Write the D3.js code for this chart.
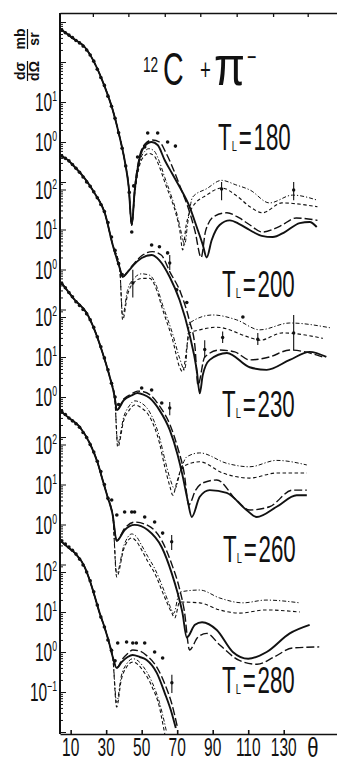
<!DOCTYPE html>
<html>
<head>
<meta charset="utf-8">
<script src="https://cdn.jsdelivr.net/npm/d3@7"></script>
<style>
body { margin: 0; background: #fff; }
text { font-family: "Liberation Sans", Arial, sans-serif; fill: #111; }
</style>
</head>
<body>
<svg id="chart" width="337" height="765"></svg>
<script>
// pion lab energies (MeV), one panel each, shifted down by 3 decades per panel
var energies = [180, 200, 230, 260, 280];

// [theta (deg), dsigma/dOmega (mb/sr)]; forward part shared by all four curves
var fwd180 = [[4,670],[6.6,560],[9.4,450],[12.3,365],[17.9,237],[23.5,94],[29.2,24],[33.7,6.3],[37.6,1.33],[40.4,0.35],[42.7,0.075],[44.4,0.0084]];
var solid180 = [[46.1,0.063],[48.9,0.4],[51.7,0.79],[55.6,1.0],[59,0.84],[63,0.35],[66.9,0.17],[71.4,0.075],[77,0.024],[81,0.0075],[84.4,0.0027],[86.6,0.0013],[89.4,0.0035],[93.9,0.0084],[99.6,0.011],[105,0.0089],[110.8,0.0063],[117.6,0.0045],[123.8,0.0042],[130.6,0.0056],[139,0.0094],[144.6,0.01],[148.6,0.0075]];
var longdash180 = [[46.1,0.07],[48.9,0.45],[52,0.9],[56,1.12],[60,1.0],[64,0.5],[68,0.2],[72,0.07],[76,0.024],[80,0.006],[83.5,0.0013],[86,0.006],[91,0.014],[98,0.017],[105,0.0126],[111,0.0084],[118,0.0056],[128,0.0079],[137,0.0126],[149,0.011]];
var dashed180 = [[46.1,0.05],[48.9,0.27],[52,0.47],[54,0.52],[57,0.45],[60,0.24],[63,0.1],[65.5,0.05],[69,0.018],[71.5,0.006],[73.1,0.002],[75,0.008],[78.7,0.024],[86.6,0.047],[95,0.071],[103.5,0.045],[111,0.024],[118,0.017],[129,0.03],[149,0.024]];
var dashdot180 = [[46.1,0.055],[48.9,0.32],[52,0.6],[54,0.68],[57,0.6],[60,0.32],[63,0.13],[66,0.055],[70,0.015],[72.5,0.005],[74.2,0.0027],[76,0.01],[78.7,0.042],[86.6,0.068],[95,0.11],[103,0.085],[111,0.063],[122,0.03],[135,0.047],[149,0.035]];
var pts180 = [[5,630],[7,540],[9,470],[11,410],[13,345],[15,300],[17,250],[19,200],[21,150],[23,105],[25,66],[27,41],[29,26],[31,14],[33,7.8],[35,3.9],[37,1.7],[39,0.7],[41,0.25],[43,0.055],[44.4,0.0056],[45.5,0.08],[47.7,0.42],[51.7,0.75],[53.4,1.68],[59,1.68],[64.6,1.0],[69,0.79]];
var err180 = [[95,0.067,0.035,0.1],[135.6,0.063,0.035,0.1]];

var fwd200 = [[3.8,727],[8.3,550],[12.3,365],[17.9,190],[23.5,81],[29.2,26],[33.7,4.1],[37.6,1.1]];
var solid200 = [[39.3,0.65],[41.5,0.8],[44.4,1.15],[50,1.94],[55.6,2.3],[60,1.7],[65.8,0.65],[71.4,0.17],[77,0.023],[81,0.0031],[82.7,0.0008],[84.4,0.0023],[88.3,0.0055],[98,0.0082],[110.8,0.0036],[120.4,0.0031],[133.4,0.0055],[144.6,0.0087],[154,0.0065]];
var longdash200 = [[39.3,0.65],[41.5,0.82],[44.4,1.2],[50,2.2],[56,2.8],[61,2.3],[66,0.85],[72,0.26],[77,0.05],[80,0.012],[81.7,0.0013],[85.5,0.0065],[94,0.0097],[102.4,0.0087],[110.8,0.0055],[122,0.0065],[133.4,0.0097],[152,0.0065]];
var dashed200 = [[39.3,0.055],[42,0.23],[46,0.49],[50,0.6],[54.5,0.6],[58.4,0.31],[61.8,0.1],[67.5,0.017],[71.4,0.0036],[73,0.0028],[77,0.026],[82.7,0.031],[92.3,0.036],[110.8,0.02],[116.5,0.017],[129.4,0.026],[152,0.019]];
var dashdot200 = [[39.3,0.07],[42,0.3],[46,0.62],[50,0.78],[54.5,0.72],[58.4,0.38],[61.8,0.13],[67.5,0.024],[71.4,0.006],[74.2,0.0031],[77,0.046],[90,0.073],[103.5,0.055],[116.5,0.031],[133.4,0.046],[156,0.035]];
var pts200 = [[5,690],[7,600],[9,520],[11,420],[13,340],[15,270],[17,205],[19,155],[21,120],[23,88],[25,62],[27,42],[29,28],[31,15],[33,6.5],[35,3.0],[37,1.4],[39,0.75],[55.6,4.1],[60,3.7],[64.6,2.6],[69.7,0.31],[75.4,0.15],[107,0.065]];
var err200 = [[45,0.46,0.2,0.99],[65.8,1.45,0.97,2.3],[85.5,0.01,0.0061,0.017],[95.6,0.02,0.0145,0.028],[115.4,0.018,0.013,0.026],[135.6,0.026,0.0097,0.073]];

var fwd230 = [[4.9,708],[8.3,450],[12.3,267],[19,126],[23.5,47],[28,12.6],[32,3.2],[34.8,1.0]];
var solid230 = [[36,0.47],[40,0.84],[44.4,1.1],[47.7,1.26],[51,1.15],[54.5,0.94],[60,0.47],[65.8,0.15],[70.3,0.035],[73,0.011],[75.9,0.0026],[78.2,0.001],[82.7,0.0032],[88.3,0.0047],[97.9,0.004],[109,0.0015],[114.8,0.001],[126,0.0018],[137.3,0.0035],[143,0.0035]];
var longdash230 = [[36,0.47],[40,0.9],[44.4,1.2],[47.7,1.4],[51,1.35],[54.5,1.15],[60,0.6],[66,0.2],[70.5,0.05],[74,0.012],[76.5,0.002],[80.4,0.0047],[84.4,0.0071],[92.3,0.0084],[103.5,0.0026],[110.8,0.0015],[122,0.0018],[135,0.0047],[143,0.0047]];
var dashed230 = [[36.5,0.056],[40,0.27],[43,0.47],[46,0.63],[50,0.53],[54.5,0.32],[60,0.071],[63,0.018],[66,0.0056],[67.5,0.0035],[70,0.008],[73,0.018],[82.7,0.024],[95.6,0.0126],[110.8,0.0094],[126,0.0126],[143,0.0126]];
var dashdot230 = [[36.5,0.07],[40,0.33],[43,0.6],[46,0.8],[50,0.7],[54.5,0.42],[60,0.1],[63,0.028],[66,0.009],[68.6,0.005],[72,0.015],[75.4,0.032],[82.7,0.04],[97.9,0.022],[110.8,0.018],[126,0.026],[143,0.02]];
var pts230 = [[5,690],[7,540],[9,410],[11,320],[13,240],[15,195],[17,155],[19,120],[21,85],[23,55],[25,32],[27,18],[29,9.5],[31,4.8],[33,2.2],[35,1.0],[37,0.65],[50,1.68],[55.6,1.5],[61.3,0.71],[72.5,0.017]];
var err230 = [[65.8,0.53,0.35,0.75]];

var fwd260 = [[3.8,727],[8.3,490],[15.1,274],[20.7,109],[25.2,35],[28,13],[30.8,4.9],[33.7,1.7]];
var solid260 = [[35.9,0.39],[40.4,0.73],[46,0.98],[53.4,0.73],[61.3,0.27],[66.9,0.061],[70.3,0.019],[73,0.0061],[75.4,0.0015],[80,0.0031],[84,0.0036],[92.3,0.0023],[101.3,0.00065],[110,0.00044],[120.4,0.00065],[133.4,0.0019],[144.6,0.0031]];
var longdash260 = [[35.9,0.39],[40.4,0.8],[46,1.15],[53.4,0.95],[61.3,0.4],[67,0.1],[71,0.028],[74,0.007],[77,0.00073],[81.5,0.0015],[86.6,0.0019],[94,0.00097],[105,0.0004],[115,0.00032],[125,0.0005],[135,0.00082],[150,0.00087]];
var dashed260 = [[35.9,0.049],[40,0.25],[44.4,0.46],[47,0.38],[50,0.23],[53.4,0.12],[57.3,0.061],[63,0.015],[67,0.0061],[68.6,0.0046],[71.4,0.0115],[82.7,0.011],[94,0.0073],[105,0.0061],[120,0.0073],[139,0.0065]];
var dashdot260 = [[35.9,0.06],[40,0.3],[44.4,0.58],[47,0.5],[50,0.3],[53.4,0.16],[57.3,0.08],[63,0.02],[66,0.009],[68,0.006],[71.4,0.0205],[82.7,0.023],[94,0.0145],[107,0.011],[120,0.0129],[139,0.011]];
var pts260 = [[5,680],[7,560],[9,460],[11,390],[13,330],[15,270],[17,200],[19,150],[21,100],[23,65],[25,38],[27,21],[29,10],[31,4.5],[33.1,4.1],[36,1.73],[40.4,2.05],[44.4,2.05],[46,2.05],[51.7,1.54],[57.3,1.15],[61.8,0.61]];
var err260 = [[66.9,0.37,0.23,0.55]];

var fwd280 = [[3.8,631],[8.3,420],[12.3,300],[17.9,133],[20.7,63],[23.5,25],[26.3,9.5],[29.2,4.0],[32,1.5],[33.7,0.75]];
var solid280 = [[35.9,0.4],[38.7,0.56],[42.1,0.75],[44.9,0.84],[48.9,0.75],[52.8,0.63],[58.5,0.3],[63,0.094],[66.9,0.03],[69.2,0.0126]];
var longdash280 = [[35.9,0.4],[39,0.65],[42,0.9],[45,1.12],[49,1.05],[53,0.8],[58.5,0.42],[63,0.16],[67,0.05],[70,0.014]];
var dashed280 = [[35.9,0.042],[38.5,0.2],[41.5,0.42],[45,0.56],[48,0.48],[50.6,0.35],[56,0.13],[60,0.042],[61.8,0.017],[63,0.009]];
var dashdot280 = [[35.9,0.055],[38.5,0.25],[41.5,0.5],[45,0.68],[48,0.6],[50.6,0.45],[56,0.17],[60,0.055],[62.5,0.02],[64,0.01]];
var pts280 = [[5,600],[7,500],[9,420],[11,350],[13,280],[15,210],[17,150],[19,100],[21,60],[23,32],[25,15],[27,7.5],[29,4.2],[31,2.0],[33,1.1],[35,0.6],[36.5,1.68],[41.5,1.78],[45,1.68],[47,1.68],[51.7,1.68],[57.3,1.0],[61.8,0.71]];
var err280 = [[67,0.17,0.094,0.27]];

// axis labels
var xTickLabels = [10, 30, 50, 70, 90, 110, 130];
var topTicks = [22.5, 42.5, 63, 83, 103.5, 124, 143.5];
var yLabelExps = [[1, 0], [2, 1, 0], [2, 1, 0], [2, 1, 0], [2, 1, 0, -1]];

var fwdAll = [fwd180, fwd200, fwd230, fwd260, fwd280],
    solidAll = [solid180, solid200, solid230, solid260, solid280],
    longdashAll = [longdash180, longdash200, longdash230, longdash260, longdash280],
    dashedAll = [dashed180, dashed200, dashed230, dashed260, dashed280],
    dashdotAll = [dashdot180, dashdot200, dashdot230, dashdot260, dashdot280],
    ptsAll = [pts180, pts200, pts230, pts260, pts280],
    errAll = [err180, err200, err230, err260, err280];

var svg = d3.select("#chart");
var ink = "#111";
var shift = 127.5;

var x = d3.scaleLinear().domain([4, 160]).range([60, 337]);
var panelY = energies.map(function (e, k) {
    return d3.scaleLog().domain([10, 1]).range([102 + shift * k, 142 + shift * k]);
});

// line styles: order drawn back to front
var styles = [
    {key: "dashdot", dash: "4,2,1.2,2", w: 1.0},
    {key: "dashed", dash: "3.5,2.5", w: 1.1},
    {key: "longdash", dash: "8,3", w: 1.4},
    {key: "solid", dash: null, w: 1.9}
];
var curveSets = {dashdot: dashdotAll, dashed: dashedAll, longdash: longdashAll, solid: solidAll};

svg.append("clipPath").attr("id", "plotclip")
    .append("rect").attr("x", 60).attr("y", 13).attr("width", 277).attr("height", 721);

var plot = svg.append("g").attr("clip-path", "url(#plotclip)");

energies.forEach(function (e, k) {
    var y = panelY[k];
    var line = d3.line()
        .x(function (d) { return x(d[0]); })
        .y(function (d) { return y(d[1]); })
        .curve(d3.curveMonotoneX);

    styles.forEach(function (s) {
        plot.append("path")
            .datum(fwdAll[k].concat(curveSets[s.key][k]))
            .attr("d", line)
            .attr("fill", "none")
            .attr("stroke", ink)
            .attr("stroke-width", s.w)
            .attr("stroke-dasharray", s.dash);
    });

    plot.selectAll(".pt" + k)
        .data(ptsAll[k])
        .enter()
        .append("circle")
        .attr("cx", function (d) { return x(d[0]); })
        .attr("cy", function (d) { return y(d[1]); })
        .attr("r", 1.8)
        .attr("fill", ink);

    var eb = plot.selectAll(".eb" + k)
        .data(errAll[k])
        .enter()
        .append("g");
    eb.append("line")
        .attr("x1", function (d) { return x(d[0]); })
        .attr("x2", function (d) { return x(d[0]); })
        .attr("y1", function (d) { return y(d[2]); })
        .attr("y2", function (d) { return y(d[3]); })
        .attr("stroke", ink)
        .attr("stroke-width", 1.1);
    eb.append("circle")
        .attr("cx", function (d) { return x(d[0]); })
        .attr("cy", function (d) { return y(d[1]); })
        .attr("r", 1.7)
        .attr("fill", ink);

    // left axis: log ticks inside this panel's band
    var top = k == 0 ? 13 : 58 + shift * k,
        bottom = k == 4 ? 734 : 185.5 + shift * k;
    var vals = [];
    for (var p = -2; p <= 3; p++) {
        for (var m = 1; m < 10; m++) {
            var v = m * Math.pow(10, p);
            var yy = y(v);
            if (yy >= top && yy < bottom) vals.push(v);
        }
    }
    var ax = svg.append("g")
        .attr("transform", "translate(60,0)")
        .call(d3.axisRight(y).tickValues(vals).tickSize(3).tickFormat(""));
    ax.select(".domain").remove();
    ax.selectAll(".tick line")
        .attr("stroke", ink)
        .attr("x1", -1)
        .attr("x2", function (d) {
            var l = Math.log10(d);
            return Math.abs(l - Math.round(l)) < 1e-6 ? 6 : 3;
        });

    yLabelExps[k].forEach(function (ex) {
        var g = svg.append("g")
            .attr("transform", "translate(57," + (y(Math.pow(10, ex)) + 9) + ") scale(0.62,1)");
        var t = g.append("text")
            .attr("text-anchor", "end")
            .attr("font-size", 25);
        t.append("tspan").text("10");
        t.append("tspan")
            .attr("font-size", 14)
            .attr("dy", -10)
            .text(ex < 0 ? "\u2212" + (-ex) : ex);
    });

    // energy label
    var labelPos = [[218, 150], [222, 297], [222, 417], [223, 562], [222, 693]][k];
    var lg = svg.append("g")
        .attr("transform", "translate(" + labelPos[0] + "," + labelPos[1] + ") scale(0.62,1)");
    var lt = lg.append("text").attr("font-size", 36);
    lt.append("tspan").text("T");
    lt.append("tspan").attr("font-size", 15).attr("dy", 1).text("L");
    lt.append("tspan").attr("dy", -1).attr("dx", 3).text("=");
    lt.append("tspan").attr("dx", 3).text(e);
});

// frame: left axis line, top line, bottom axis
svg.append("line")
    .attr("x1", 60).attr("x2", 60).attr("y1", 13).attr("y2", 734)
    .attr("stroke", ink).attr("stroke-width", 2);

var topAx = svg.append("g")
    .attr("transform", "translate(0,13)")
    .call(d3.axisBottom(x).tickValues(topTicks).tickSize(4).tickSizeOuter(0).tickFormat(""));
topAx.selectAll("path, line").attr("stroke", ink).attr("stroke-width", 1.3);

var botAx = svg.append("g")
    .attr("transform", "translate(0,734)")
    .call(d3.axisTop(x).tickValues(xTickLabels).tickSize(4).tickSizeOuter(0).tickFormat(""));
botAx.selectAll("path, line").attr("stroke", ink).attr("stroke-width", 1.6);

xTickLabels.forEach(function (v) {
    svg.append("g")
        .attr("transform", "translate(" + x(v) + ",756) scale(0.62,1)")
        .append("text")
        .attr("text-anchor", "middle")
        .attr("font-size", 25)
        .text(v);
});
svg.append("g")
    .attr("transform", "translate(313,757) scale(0.75,1)")
    .append("text")
    .attr("text-anchor", "middle")
    .attr("font-size", 27)
    .text("\u03b8");

// title  12C + pi-
function piece(px, py, size, sx, str) {
    svg.append("g")
        .attr("transform", "translate(" + px + "," + py + ") scale(" + sx + ",1)")
        .append("text")
        .attr("font-size", size)
        .text(str);
}
piece(143, 72, 22, 0.62, "12");
piece(163, 85, 46, 0.62, "C");
piece(200, 80, 30, 0.62, "+");
piece(214, 85, 56, 0.8, "\u03c0");
piece(247, 66, 26, 0.62, "\u2212");

// y axis title: dsigma/dOmega  mb/sr, rotated
var yt = svg.append("g").attr("transform", "translate(27,58) rotate(-90)");
[["d\u03c3", "d\u03a9", -13], ["mb", "sr", 19]].forEach(function (f) {
    yt.append("text").attr("x", f[2]).attr("y", -2).attr("text-anchor", "middle")
        .attr("font-size", 14).attr("font-weight", "bold").text(f[0]);
    yt.append("text").attr("x", f[2]).attr("y", 12).attr("text-anchor", "middle")
        .attr("font-size", 14).attr("font-weight", "bold").text(f[1]);
    yt.append("line").attr("x1", f[2] - 10).attr("x2", f[2] + 10).attr("y1", 0.5).attr("y2", 0.5)
        .attr("stroke", ink).attr("stroke-width", 1.2);
});
</script>
</body>
</html>
